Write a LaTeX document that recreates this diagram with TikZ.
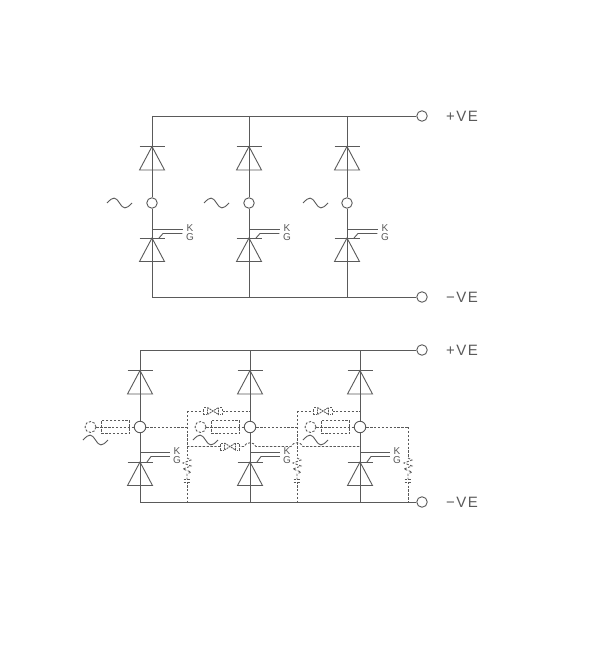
\documentclass[tikz,border=0pt]{standalone}
\usepackage{fontspec}
\setmainfont{Liberation Sans}
\definecolor{wirecol}{HTML}{5A5A5A}
\tikzset{
  wire/.style={draw=wirecol,line width=0.9pt},
  snub/.style={draw=wirecol,line width=0.85pt,dash pattern=on 2.4pt off 1.5pt},
  term/.style={circle,wire,fill=white,minimum size=10.5pt,inner sep=0pt},
  dterm/.style={circle,snub,fill=white,minimum size=11pt,inner sep=0pt},
  fuse/.style={rectangle,snub,minimum width=28.5pt,minimum height=12.5pt,inner sep=0pt},
  lab/.style={text=wirecol,inner sep=0pt,font=\fontsize{10}{10}\selectfont},
  vlab/.style={text=wirecol,inner sep=0pt,anchor=west,font=\fontsize{15}{15}\selectfont},
  diode/.pic={
    \draw [wire] (-12.5,0) -- (12.5,0);
    \draw [wire] (0,0) -- (12.5,23.5) -- (-12.5,23.5) -- cycle;
  },
  tilde/.pic={
    \draw [wire] (-12.5,0) .. controls (-6,-7) and (-4,-6) .. (0,0) .. controls (4,6) and (6,7) .. (12.5,0);
  },
  clamp/.pic={
    \fill [white] (-9.5,-4) rectangle (9.5,4);
    \draw [snub] (-7,-3.5) -- (-9.5,-3.5) -- (-9.5,3.5) -- (-7,3.5);
    \draw [snub] (7,-3.5) -- (9.5,-3.5) -- (9.5,3.5) -- (7,3.5);
    \draw [snub,dash pattern=on 1.8pt off 0.8pt] (-5.5,-3.5) -- (5.5,3.5) -- (5.5,-3.5) -- (-5.5,3.5) -- cycle;
  },
  rcnet/.pic={
    \fill [white] (-4.5,0) rectangle (4.5,26);
    \draw [snub] (0,0) -- (4,2) -- (-4,5) -- (4,8) -- (-4,11) -- (4,14) -- (0,16) -- (0,21);
    \draw [snub] (-3.5,21) -- (3.5,21);
    \draw [snub] (-3.5,24) -- (3.5,24);
    \draw [snub] (0,24) -- (0,26);
  },
}
\begin{document}
\begin{tikzpicture}[x=1pt,y=-1pt]
  \useasboundingbox [fill=white] (0,0) rectangle (611,650);
  % upper bridge
  \coordinate (ua) at (152,116);
  \coordinate (ub) at (249,116);
  \coordinate (uc) at (347,116);
  \coordinate (uA) at (152,297);
  \coordinate (uB) at (249,297);
  \coordinate (uC) at (347,297);
  \node [term] (up) at (422,116) {};
  \node [term] (un) at (422,297) {};
  \node [term] (m1) at (152,203) {};
  \node [term] (m2) at (249,203) {};
  \node [term] (m3) at (347,203) {};
  \draw [wire] (ua) -- (up);
  \draw [wire] (uA) -- (un);
  \draw [wire] (ua) -- (m1) -- (uA);
  \draw [wire] (ub) -- (m2) -- (uB);
  \draw [wire] (uc) -- (m3) -- (uC);
  \pic at (152,146.5) {diode};
  \pic at (249,146.5) {diode};
  \pic at (347,146.5) {diode};
  \pic at (152,238) {diode};
  \pic at (249,238) {diode};
  \pic at (347,238) {diode};
  \pic at (119.5,203) {tilde};
  \pic at (216.5,203) {tilde};
  \pic at (315.5,203) {tilde};
  \node [lab] (k1) at (190,228) {K};
  \node [lab] (g1) at (190,237) {G};
  \node [lab] (k2) at (287,228) {K};
  \node [lab] (g2) at (287,237) {G};
  \node [lab] (k3) at (385,228) {K};
  \node [lab] (g3) at (385,237) {G};
  \draw [wire] (152,229) -- ([xshift=-3.5pt]k1.west |- 0,229);
  \draw [wire] (249,229) -- ([xshift=-3.5pt]k2.west |- 0,229);
  \draw [wire] (347,229) -- ([xshift=-3.5pt]k3.west |- 0,229);
  \draw [wire] (159,238) -- (163,233.5) -- ([xshift=-3.5pt]g1.west |- 0,233.5);
  \draw [wire] (256,238) -- (260,233.5) -- ([xshift=-3.5pt]g2.west |- 0,233.5);
  \draw [wire] (354,238) -- (358,233.5) -- ([xshift=-3.5pt]g3.west |- 0,233.5);
  \node [vlab] (pv1) at (446,116) {+\hspace{1.5pt}V\hspace{1.5pt}E};
  \node [vlab] (nv1) at (446,297) {−\hspace{1.5pt}V\hspace{1.5pt}E};
  % lower bridge
  \coordinate (la) at (140,350);
  \coordinate (lb) at (250,350);
  \coordinate (lc) at (360,350);
  \coordinate (lA) at (140,502);
  \coordinate (lB) at (250,502);
  \coordinate (lC) at (360,502);
  \node [term] (vp) at (422,350) {};
  \node [term] (vn) at (422,502) {};
  \node [term,minimum size=11.5pt] (n1) at (140,427) {};
  \node [term,minimum size=11.5pt] (n2) at (250,427) {};
  \node [term,minimum size=11.5pt] (n3) at (360,427) {};
  \draw [wire] (la) -- (vp);
  \draw [wire] (lA) -- (vn);
  \draw [wire] (la) -- (n1) -- (lA);
  \draw [wire] (lb) -- (n2) -- (lB);
  \draw [wire] (lc) -- (n3) -- (lC);
  \pic at (140,370.5) {diode};
  \pic at (250,370.5) {diode};
  \pic at (360,370.5) {diode};
  \pic at (140,462) {diode};
  \pic at (250,462) {diode};
  \pic at (360,462) {diode};
  \node [lab] (k4) at (177,451) {K};
  \node [lab] (g4) at (177,460) {G};
  \node [lab] (k5) at (287,451) {K};
  \node [lab] (g5) at (287,460) {G};
  \node [lab] (k6) at (397,451) {K};
  \node [lab] (g6) at (397,460) {G};
  \draw [wire] (140,452.5) -- ([xshift=-3.5pt]k4.west |- 0,452.5);
  \draw [wire] (250,452.5) -- ([xshift=-3.5pt]k5.west |- 0,452.5);
  \draw [wire] (360,452.5) -- ([xshift=-3.5pt]k6.west |- 0,452.5);
  \draw [wire] (147,462) -- (151,456.5) -- ([xshift=-3.5pt]k4.west |- 0,456.5);
  \draw [wire] (257,462) -- (261,456.5) -- ([xshift=-3.5pt]k5.west |- 0,456.5);
  \draw [wire] (367,462) -- (371,456.5) -- ([xshift=-3.5pt]k6.west |- 0,456.5);
  \node [vlab] (pv2) at (446,350) {+\hspace{1.5pt}V\hspace{1.5pt}E};
  \node [vlab] (nv2) at (446,502) {−\hspace{1.5pt}V\hspace{1.5pt}E};
  % dashed parts
  \coordinate (s1) at (187,411);
  \coordinate (s2) at (297,411);
  \coordinate (s3) at (408,427);
  \coordinate (t1) at (187,502);
  \coordinate (t2) at (297,502);
  \coordinate (t3) at (408,502);
  \coordinate (h1) at (187,446.5);
  \coordinate (h2) at (360,446.5);
  \draw [snub] (s1) -- (250,411);
  \draw [snub] (s2) -- (360,411);
  \draw [snub] (s1) -- (t1);
  \draw [snub] (s2) -- (t2);
  \draw [snub] (s3) -- (t3);
  \draw [snub] (n1) -- (187,427);
  \draw [snub] (n2) -- (297,427);
  \draw [snub] (n3) -- (s3);
  \draw [snub] (h1) -- (244,446.5) .. controls (246,441.5) and (254,441.5) .. (256,446.5) -- (291,446.5) .. controls (293,441.5) and (301,441.5) .. (303,446.5) -- (h2);
  \node [dterm] (c1) at (90.5,427) {};
  \node [dterm] (c2) at (200.5,427) {};
  \node [dterm] (c3) at (310.5,427) {};
  \node [fuse] (f1) at (115.5,427) {};
  \node [fuse] (f2) at (225.5,427) {};
  \node [fuse] (f3) at (335.5,427) {};
  \draw [snub] (c1) -- (n1);
  \draw [snub] (c2) -- (n2);
  \draw [snub] (c3) -- (n3);
  \pic at (95.5,440) {tilde};
  \pic at (205.5,440) {tilde};
  \pic at (315.5,440) {tilde};
  \pic at (213,411) {clamp};
  \pic at (323,411) {clamp};
  \pic at (230,446.5) {clamp};
  \pic at (187,458) {rcnet};
  \pic at (297,458) {rcnet};
  \pic at (408,458) {rcnet};
\end{tikzpicture}
\end{document}
